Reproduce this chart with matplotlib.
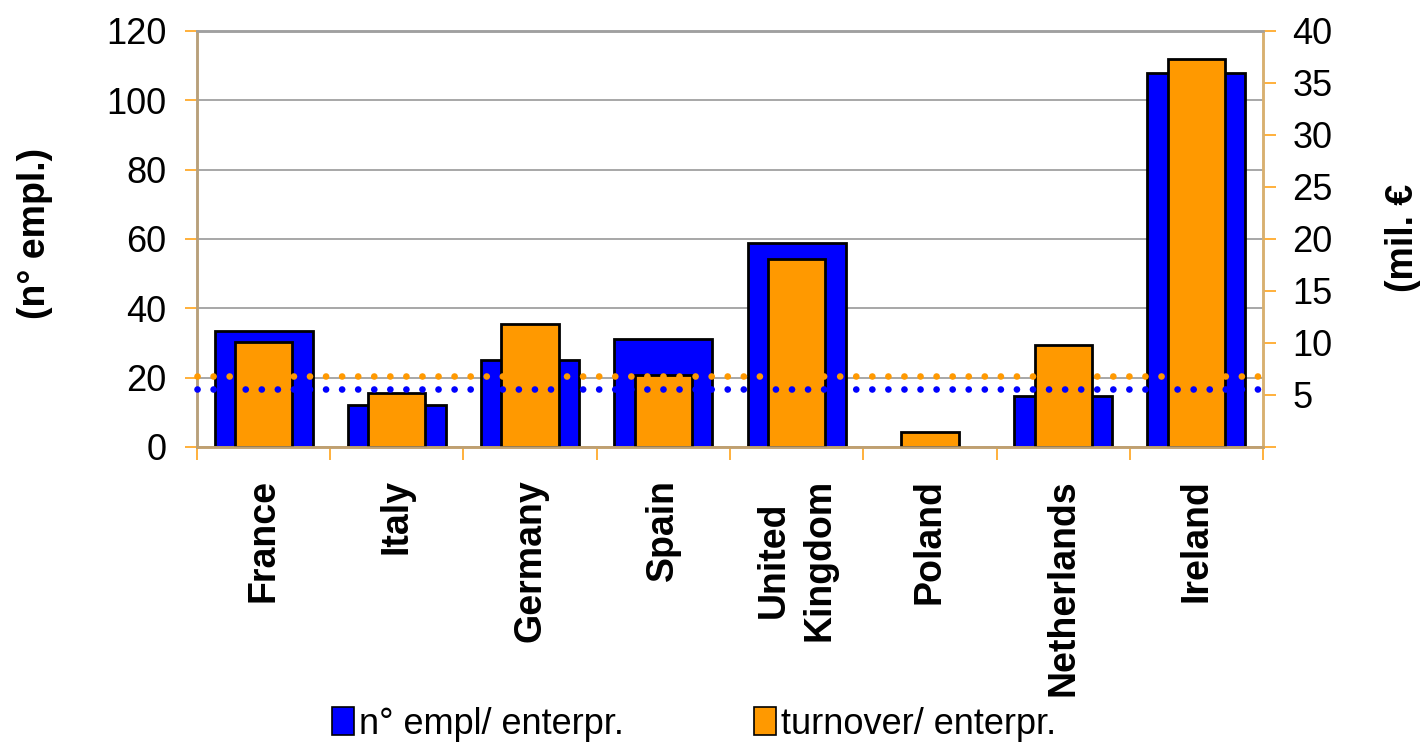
import numpy as np
import matplotlib
matplotlib.use('Agg')
import matplotlib.pyplot as plt
from matplotlib.patches import Patch

plt.rcParams['font.family'] = ['Liberation Sans', 'DejaVu Sans']

countries = ['France', 'Italy', 'Germany', 'Spain', 'United\nKingdom',
             'Poland', 'Netherlands', 'Ireland']
empl = [33.6, 12.1, 25.1, 31.1, 58.8, np.nan, 14.7, 107.9]
turnover = [10.1, 5.2, 11.8, 6.9, 18.1, 1.45, 9.8, 37.3]
avg_empl = 16.7
avg_turnover = 6.8

empl_ticks = [0, 20, 40, 60, 80, 100, 120]
turn_ticks = [0, 5, 10, 15, 20, 25, 30, 35, 40]

blue = '#0000FF'
orange = '#FF9900'
tick_col = '#FFA31A'

fig = plt.figure(figsize=(14.23, 7.43), dpi=100)
ax = fig.add_axes([0.1384, 0.3984, 0.7492, 0.5599])
ax2 = ax.twinx()

x = np.arange(len(countries))
ax.bar(x, empl, width=0.735, color=blue, edgecolor='black', linewidth=2.0, zorder=2)
ax2.bar(x, turnover, width=0.43, color=orange, edgecolor='black', linewidth=2.0, zorder=2)

# average lines, both drawn on top of the bars
ax2.plot([-0.5, 7.55], [avg_empl, avg_empl], transform=ax.transData, color=blue,
         linewidth=4.8, linestyle=(0, (0.01, 2.4)), dash_capstyle='round', zorder=5,
         clip_on=False)
ax2.plot([-0.5, 7.55], [avg_turnover, avg_turnover], color=orange,
         linewidth=4.8, linestyle=(0, (0.01, 2.4)), dash_capstyle='round', zorder=5,
         clip_on=False)

ax.set_xlim(-0.5, 7.5)
ax.set_ylim(0, 120)
ax2.set_ylim(0, 40)

ax.set_axisbelow(True)
ax.yaxis.grid(True, color='#a0a0a0', linewidth=1.3)

ax.set_yticks(empl_ticks)
ax.set_yticklabels([str(t) for t in empl_ticks], fontsize=26)
ax.tick_params(axis='y', length=9, width=1.2, color=tick_col, pad=13)

ax2.set_yticks(turn_ticks)
ax2.set_yticklabels([''] + [str(t) for t in turn_ticks[1:]], fontsize=26)
ax2.tick_params(axis='y', length=9, width=1.2, color=tick_col, pad=12)

ax.set_xticks(x)
ax.set_xticklabels(countries, rotation=90, fontsize=27, fontweight='bold')
for t in ax.get_xticklabels():
    t.set_linespacing(1.35)
ax.tick_params(axis='x', length=0, pad=23)
ax.set_xticks(np.arange(-0.5, 8, 1), minor=True)
ax.tick_params(axis='x', which='minor', length=9, width=1.2, color=tick_col)

for a in (ax, ax2):
    a.spines['top'].set_color('#a0a0a0')
    a.spines['left'].set_color('#b8a07a')
    a.spines['bottom'].set_color('#c0a070')
    a.spines['right'].set_color('#d8b070')
    for s in a.spines.values():
        s.set_linewidth(1.8)

fig.text(35 / 1423, 1 - 233 / 743, '(n° empl.)', rotation=90, fontsize=27,
         fontweight='bold', ha='center', va='center')
fig.text(1403 / 1423, 1 - 238 / 743, '(mil. €', rotation=90, fontsize=27,
         fontweight='bold', ha='center', va='center')

handles = [Patch(facecolor=blue, edgecolor='black', linewidth=1.2),
           Patch(facecolor=orange, edgecolor='black', linewidth=1.2)]
fig.legend(handles, ['n° empl/ enterpr.', 'turnover/ enterpr.'], loc='center',
           bbox_to_anchor=(0.488, 1 - 724 / 743), ncol=2, frameon=False, fontsize=26,
           handlelength=0.6, handleheight=0.8, handletextpad=0.15, columnspacing=3.6)

fig.savefig('out.png', dpi=100)
